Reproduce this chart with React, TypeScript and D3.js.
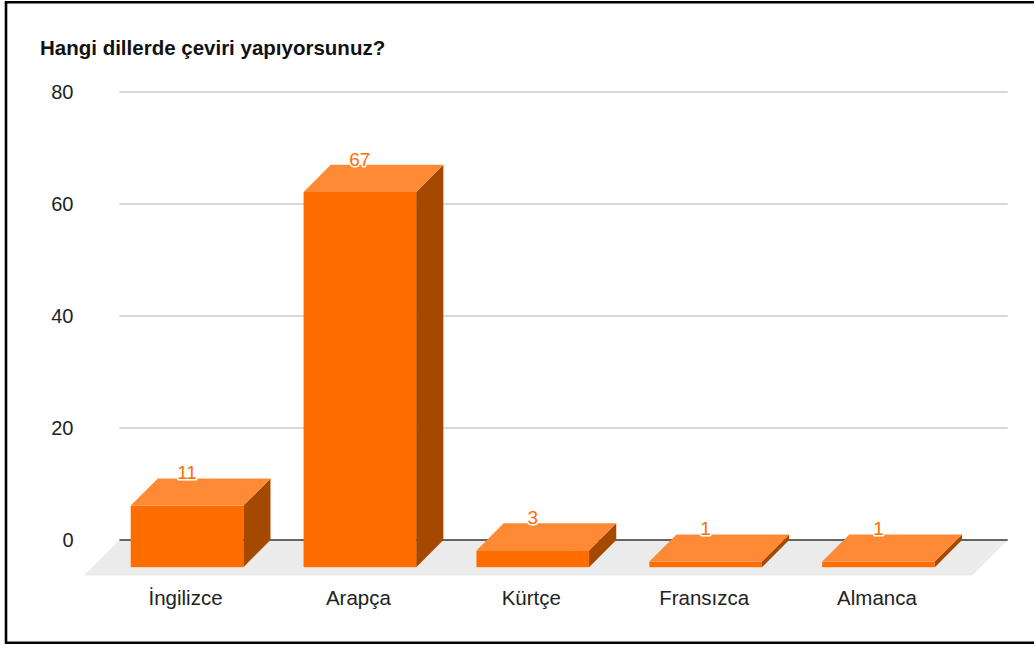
import React from "react";
import * as d3 from "d3";

const title = "Hangi dillerde çeviri yapıyorsunuz?";
const categories = ["İngilizce", "Arapça", "Kürtçe", "Fransızca", "Almanca"];
const values = [11, 67, 3, 1, 1];
const yTicks = [0, 20, 40, 60, 80];

const W = 1034;
const H = 646;
const FONT = "'Liberation Sans', Arial, Helvetica, sans-serif";

const plotLeft = 119.5;
const plotRight = 1007.7;
const depthBar = 27.2;
const depthFloor = 35.5;
const barW = 112.6;

const FRONT = "#ff6d01";
const TOP = "#ff8a36";
const SIDE = "#a54900";

export default function App() {
  const y = d3.scaleLinear().domain([0, 80]).range([540, 92]);
  const x = d3.scalePoint<string>().domain(categories).range([214.2, 905.7]);
  const y0 = y(0);

  const poly = (pts: [number, number][]) => pts.map((p) => p.join(",")).join(" ");

  return (
    <svg
      width={W}
      height={H}
      style={{ position: "absolute", left: 0, top: 0, background: "#fff" }}
      fontFamily={FONT}
    >
      <rect x={0} y={0} width={W} height={H} fill="#fff" />
      {/* frame */}
      <line x1={6} y1={2.2} x2={W} y2={2.2} stroke="#000" strokeWidth={2.6} />
      <line x1={6} y1={1} x2={6} y2={644} stroke="#000" strokeWidth={2.6} />
      <line x1={6} y1={642.8} x2={W} y2={642.8} stroke="#000" strokeWidth={2.6} />

      <text x={40} y={55} fontSize={20.5} fontWeight="bold" fill="#111">
        {title}
      </text>

      {/* gridlines */}
      {yTicks
        .filter((t) => t !== 0)
        .map((t) => (
          <line
            key={t}
            x1={plotLeft}
            x2={plotRight}
            y1={y(t)}
            y2={y(t)}
            stroke="#cccccc"
            strokeWidth={1.4}
          />
        ))}
      {yTicks.map((t) => (
        <text
          key={"t" + t}
          x={73.5}
          y={y(t)}
          textAnchor="end"
          dominantBaseline="central"
          fontSize={20}
          fill="#222"
        >
          {t}
        </text>
      ))}

      {/* floor */}
      <polygon
        points={poly([
          [plotLeft, y0],
          [plotRight, y0],
          [plotRight - depthFloor, y0 + depthFloor],
          [plotLeft - depthFloor, y0 + depthFloor],
        ])}
        fill="#ebebeb"
      />
      <line x1={plotLeft} x2={plotRight} y1={y0} y2={y0} stroke="#333" strokeWidth={1.5} />

      {/* bars */}
      {categories.map((c, i) => {
        const cx = x(c)!;
        const bl = cx - barW / 2;
        const br = cx + barW / 2;
        const bt = y(values[i]);
        const d = depthBar;
        return (
          <g key={c}>
            <polygon
              points={poly([
                [br, bt],
                [br, y0],
                [br - d, y0 + d],
                [br - d, bt + d],
              ])}
              fill={SIDE}
            />
            <polygon
              points={poly([
                [bl, bt],
                [br, bt],
                [br - d, bt + d],
                [bl - d, bt + d],
              ])}
              fill={TOP}
            />
            <rect x={bl - d} y={bt + d} width={barW} height={y0 - bt} fill={FRONT} />
          </g>
        );
      })}

      {/* value labels */}
      {categories.map((c, i) => (
        <text
          key={"v" + c}
          x={x(c)! - depthBar}
          y={y(values[i]) + 0.8}
          textAnchor="middle"
          fontSize={19}
          fill={FRONT}
          stroke="#fff"
          strokeWidth={3}
          paintOrder="stroke"
          strokeLinejoin="round"
        >
          {values[i]}
        </text>
      ))}

      {/* category labels */}
      {categories.map((c) => (
        <text
          key={"c" + c}
          x={x(c)! - depthBar - 1.5}
          y={605}
          textAnchor="middle"
          fontSize={20.5}
          fill="#222"
        >
          {c}
        </text>
      ))}
    </svg>
  );
}
